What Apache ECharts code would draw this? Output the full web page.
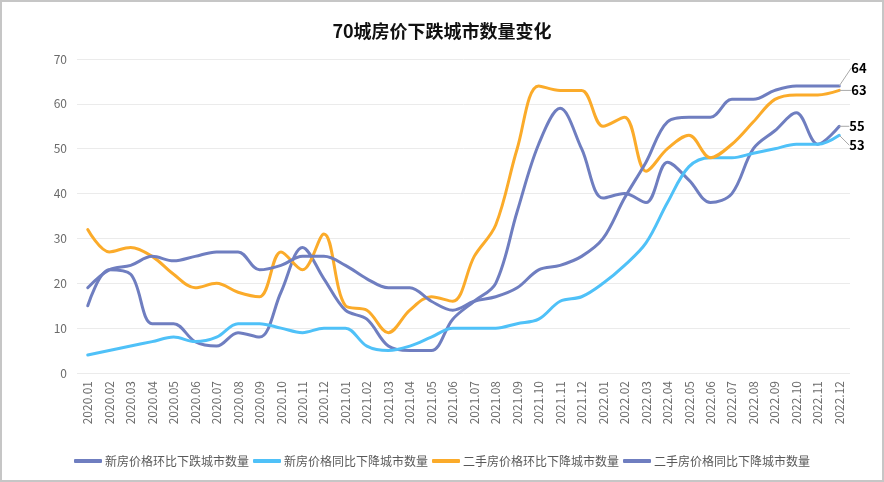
<!DOCTYPE html>
<html>
<head>
<meta charset="utf-8">
<script src="https://cdn.jsdelivr.net/npm/echarts@6/dist/echarts.min.js"></script>
<style>
html,body{margin:0;padding:0;background:#fff;}
#wrap{width:884px;height:482px;box-sizing:border-box;border:2px solid #c6c6c6;}
#chart{width:880px;height:478px;}
</style>
</head>
<body>
<div id="wrap"><div id="chart"></div></div>
<script>
var categories = ['2020.01','2020.02','2020.03','2020.04','2020.05','2020.06','2020.07','2020.08','2020.09','2020.10','2020.11','2020.12',
'2021.01','2021.02','2021.03','2021.04','2021.05','2021.06','2021.07','2021.08','2021.09','2021.10','2021.11','2021.12',
'2022.01','2022.02','2022.03','2022.04','2022.05','2022.06','2022.07','2022.08','2022.09','2022.10','2022.11','2022.12'];
var seriesNames = ['新房价格环比下跌城市数量','新房价格同比下降城市数量','二手房价格环比下降城市数量','二手房价格同比下降城市数量'];
var newMoM = [15,23,22,11,11,7,6,9,8,18,28,21,14,12,6,5,5,12,16,20,36,51,59,50,39,40,38,47,43,38,40,50,54,58,51,55];
var newYoY = [4,5,6,7,8,7,8,11,11,10,9,10,10,6,5,6,8,10,10,10,11,12,16,17,20,24,29,38,46,48,48,49,50,51,51,53];
var usedMoM = [32,27,28,26,22,19,20,18,17,27,23,31,15,14,9,14,17,16,26,33,50,64,63,63,55,57,45,50,53,48,51,56,61,62,62,63];
var usedYoY = [19,23,24,26,25,26,27,27,23,24,26,26,24,21,19,19,16,14,16,17,19,23,24,26,30,39,47,56,57,57,61,61,63,64,64,64];
var colors = ['#6f7ec0','#4fc1f8','#fbab2a','#6f7ec0'];
var labelShift = [[4,0],[4,10],[6,0],[6,-18]];

function build(values){
  var last = values.length - 1;
  return values.map(function(v, i){
    if (i === last) {
      return {value: v, label: {show: true}};
    }
    return v;
  });
}
var allValues = [newMoM, newYoY, usedMoM, usedYoY];
var series = allValues.map(function(vals, k){
  return {
    name: seriesNames[k],
    type: 'line',
    smooth: 0.35,
    symbol: 'circle',
    symbolSize: 0.1,
    showSymbol: true,
    data: build(vals),
    z: k === 3 ? 3 : 2,
    lineStyle: {width: 3, color: colors[k], cap: 'round'},
    itemStyle: {color: colors[k]},
    label: {show: false, position: 'right', distance: 6, color: '#000', fontWeight: 'bold', fontSize: 13, fontFamily: 'Noto Sans CJK SC'},
    labelLine: {show: true, lineStyle: {color: '#a8a8a8', width: 1}},
    labelLayout: {dx: labelShift[k][0], dy: labelShift[k][1]}
  };
});

var chart = echarts.init(document.getElementById('chart'));
chart.setOption({
  animation: false,
  color: colors,
  textStyle: {fontFamily: 'Noto Sans CJK SC'},
  title: {
    text: '70城房价下跌城市数量变化',
    left: 'center',
    top: 15,
    textStyle: {fontSize: 18, fontWeight: 'bold', color: '#111', fontFamily: 'Noto Sans CJK SC'}
  },
  legend: {
    bottom: 8,
    left: 'center',
    itemGap: 4,
    itemWidth: 28,
    itemHeight: 4,
    icon: 'roundRect',
    textStyle: {fontSize: 12, color: '#595959', padding: [0,0,0,-2]},
    data: seriesNames
  },
  grid: {left: 75, right: 32, top: 57, bottom: 107},
  xAxis: {
    type: 'category',
    data: categories,
    boundaryGap: true,
    axisLine: {show: false},
    axisTick: {show: false},
    axisLabel: {rotate: 90, color: '#6b6b6b', fontSize: 12, margin: 8, interval: 0}
  },
  yAxis: {
    type: 'value',
    min: 0, max: 70, interval: 10,
    axisLine: {show: false},
    axisTick: {show: false},
    axisLabel: {color: '#6b6b6b', fontSize: 12, margin: 10},
    splitLine: {lineStyle: {color: '#ebebeb', width: 1}}
  },
  series: series
});
</script>
</body>
</html>
